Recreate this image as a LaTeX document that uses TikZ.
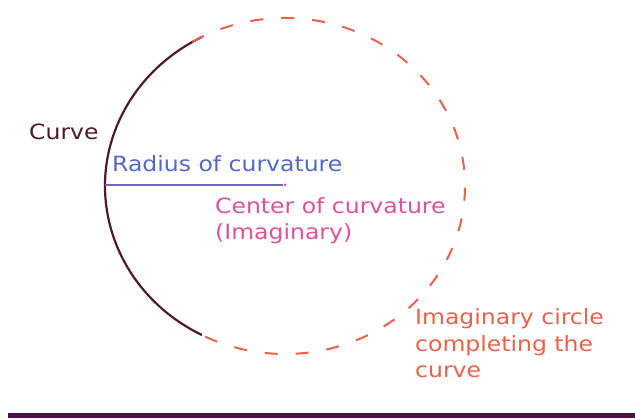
\documentclass[tikz,border=0pt]{standalone}
\usepackage{fontspec}
\newfontfamily\lblfont[FakeStretch=1.12]{DejaVu Sans}
\definecolor{curvecol}{HTML}{4E1C24}
\definecolor{radcol}{HTML}{5566CC}
\definecolor{radline}{HTML}{6A6AB8}
\definecolor{centcol}{HTML}{E0509C}
\definecolor{imagcol}{HTML}{E8624C}
\definecolor{barcol}{HTML}{4A1248}
\begin{document}
\begin{tikzpicture}[x=1pt,y=-1pt,
  lbl/.style={font=\lblfont\fontsize{21}{26.5}\selectfont, inner sep=0pt, anchor=base west, align=left},
  solidarc/.style={draw=curvecol, line width=2.2pt},
  dasharc/.style={draw=imagcol, line width=2pt, dash pattern=on 13pt off 18pt},
  radiusline/.style={draw=radline, line width=1.6pt},
  bar/.style={draw=barcol, line width=5pt}]
\useasboundingbox (0,0) rectangle (635,419);
\coordinate (c) at (285,186);
% curve (solid arc)
\draw[solidarc] ([shift={(117.5:180 and 168)}]c) arc[start angle=117.5, end angle=242.5, x radius=180, y radius=168];
% imaginary circle (dashed arc)
\draw[dasharc] ([shift={(-121:180 and 168)}]c) arc[start angle=-121, end angle=121, x radius=180, y radius=168];
% radius of curvature
\coordinate (rp) at (105,185);
\node[circle, fill=centcol, inner sep=0pt, minimum size=3pt] (cc) at (285,185) {};
\draw[radiusline] (rp) -- (cc);
% labels (base anchor = baseline of the last line)
\node[lbl, text=curvecol] (curve) at (29,140) {Curve};
\node[lbl, text=radcol] (radius) at (112,172) {Radius of curvature};
\node[lbl, text=centcol] (center) at (215,240) {Center of curvature\\(Imaginary)};
\node[lbl, text=imagcol] (imag) at (415,378) {Imaginary circle\\completing the\\curve};
% bottom bar
\coordinate (b1) at (8,416);
\coordinate (b2) at (635,416);
\draw[bar] (b1) -- (b2);
\end{tikzpicture}
\end{document}
